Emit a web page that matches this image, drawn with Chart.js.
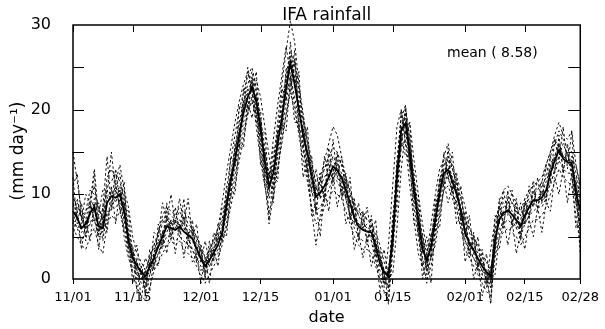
<!DOCTYPE html>
<html><head><meta charset="utf-8">
<script src="https://cdn.jsdelivr.net/npm/chart.js@4"></script>
<style>html,body{margin:0;padding:0;background:#fff;}#wrap{width:605px;height:329px;position:relative;}</style>
</head><body><div id="wrap"><canvas id="c" width="605" height="329"></canvas></div>
<script>
const titleText = 'IFA rainfall';
const meanLabel = 'mean ( 8.58)';
const xTitle = 'date';
const yTitle = '(mm day\u207B\u00B9)';
const tickDays = [0, 14, 30, 44, 61, 75, 92, 106, 119];
const tickLabels = ['11/01','11/15','12/01','12/15','01/01','01/15','02/01','02/15','02/28'];
const yTicks = [0, 10, 20, 30];
const yMinorTicks = [5, 10, 15, 20, 25];

const meanRain = [
8.0,7.2,6.0,6.5,7.8,8.5,6.2,6.0,9.0,9.8,
9.6,10.0,8.0,4.6,2.5,1.6,0.8,0.3,1.5,2.5,
3.8,5.0,6.2,6.0,5.8,6.2,5.6,5.2,4.8,3.6,
2.4,1.5,2.2,3.1,4.0,5.5,8.5,11.5,14.0,17.0,
19.6,21.5,22.7,21.0,17.6,14.0,10.9,12.5,16.0,19.0,
22.5,25.5,23.0,20.0,17.0,14.8,12.0,9.7,10.2,11.0,
12.0,13.3,12.8,12.0,10.5,9.0,7.2,6.2,5.8,5.6,
5.5,4.0,1.8,0.8,0.3,5.0,12.0,17.6,18.4,15.0,
10.5,7.0,3.5,2.2,3.8,7.0,10.0,12.5,12.9,11.5,
10.0,8.0,5.4,4.2,3.4,2.4,1.5,0.8,0.3,4.6,
7.0,7.8,8.1,7.6,7.0,6.2,7.5,8.5,9.3,9.3,
9.6,10.5,12.5,14.0,15.2,14.2,13.8,13.7,10.1,8.1];

const member1 = [
15.0,11.5,8.0,7.0,9.5,11.0,8.0,7.5,12.0,13.0,
11.5,13.5,10.5,6.0,3.5,2.0,0.5,-1.5,0.5,3.0,
5.5,7.5,8.5,8.0,7.5,8.5,8.0,6.5,6.0,5.0,
3.5,2.5,3.5,4.5,6.0,7.0,10.5,14.0,17.0,20.0,
22.0,24.0,25.0,22.5,18.0,13.5,10.0,13.5,18.5,23.0,
27.0,30.5,28.0,23.0,19.5,16.0,13.0,10.5,12.0,14.0,
16.0,18.0,17.0,14.5,12.0,10.0,8.5,7.5,8.0,7.0,
6.5,4.5,2.5,0.5,-1.0,6.5,14.0,19.0,20.5,16.5,
11.5,8.0,4.0,1.5,4.5,8.5,11.5,14.5,16.0,13.0,
11.0,9.5,7.0,6.0,5.0,3.5,2.0,0.5,-1.0,5.5,
9.0,10.5,11.0,10.0,9.0,8.0,9.5,10.5,11.0,11.5,
12.0,13.5,15.0,17.0,18.5,17.0,16.5,17.5,13.5,11.0];

const member2 = [
6.0,5.0,4.0,3.5,5.0,6.0,4.0,3.0,6.5,7.5,
7.0,8.0,6.0,3.0,0.5,-1.0,-2.0,-2.5,-1.0,1.0,
2.0,3.0,4.0,4.5,4.0,4.5,3.5,3.0,2.5,1.5,
0.5,-0.5,0.5,1.5,2.5,4.0,6.5,9.5,12.0,15.0,
17.5,19.5,21.0,19.0,15.0,11.0,8.0,9.5,13.0,16.0,
19.5,22.0,20.0,17.0,14.0,11.5,8.5,6.5,7.0,8.5,
9.5,10.5,10.0,9.5,8.0,6.5,5.0,4.0,3.5,3.5,
3.0,1.5,0.0,-1.5,-2.5,3.0,10.0,15.5,16.5,13.0,
8.5,5.0,1.5,0.0,1.5,5.0,8.0,10.5,11.0,9.5,
8.0,6.0,3.5,2.5,1.5,0.5,-0.5,-1.5,-2.0,2.5,
5.0,5.5,6.0,5.5,5.0,4.0,5.0,6.0,7.0,7.0,
7.5,8.5,10.0,11.5,13.0,12.0,11.5,11.0,7.5,4.0];

const member3 = [
7.0,6.0,6.5,8.0,9.0,7.0,5.5,8.5,10.5,10.0,
10.5,8.5,5.0,2.5,1.0,0.5,0.0,1.0,2.5,4.0,
5.5,7.0,7.0,6.5,7.0,6.5,6.0,5.0,3.5,2.0,
1.0,2.0,3.5,4.5,6.0,9.0,12.5,15.5,18.5,21.0,
23.0,24.5,22.0,18.0,14.0,11.0,12.0,16.5,20.5,24.0,
27.5,24.0,20.5,17.5,15.0,12.5,10.0,10.5,11.5,13.0,
14.5,14.0,13.0,11.5,9.5,7.5,6.5,6.0,6.5,6.0,
4.5,2.0,0.5,-0.5,4.0,11.0,18.0,20.0,16.0,11.0,
7.0,3.0,1.5,3.0,6.5,10.0,13.0,14.0,12.0,10.5,
8.5,6.0,4.5,3.5,2.5,1.0,0.0,-0.5,3.5,7.0,
8.5,9.0,8.0,7.0,6.0,7.0,8.5,9.5,10.0,10.5,
11.5,13.5,15.0,16.5,15.5,14.5,15.0,12.0,9.0,6.0];

const member4 = [
9.5,8.5,7.5,6.0,6.5,8.0,9.0,6.5,6.5,9.0,
10.5,10.0,10.5,8.5,5.0,3.0,2.0,1.0,0.5,2.0,
3.0,4.5,5.5,7.0,6.5,6.0,7.0,6.0,5.5,5.0,
4.0,2.5,1.5,2.5,3.5,4.5,6.0,8.5,11.0,14.0,
16.5,19.5,21.5,23.5,21.5,18.0,14.5,11.0,13.0,16.5,
19.5,23.0,26.0,22.5,19.0,16.5,14.0,11.0,9.5,10.5,
11.5,12.5,14.5,13.5,12.0,10.5,9.0,7.5,6.5,6.0,
6.0,5.5,4.0,2.0,0.5,0.5,6.0,13.0,17.5,18.5,
14.0,10.0,6.5,3.5,2.5,4.0,7.5,10.5,13.0,13.5,
12.0,10.5,8.5,6.0,5.0,4.0,3.0,2.0,1.0,0.5,
5.0,7.5,8.0,9.0,8.0,7.5,6.5,7.5,9.0,9.5,
10.0,10.5,11.0,13.0,14.5,16.0,14.5,14.0,13.5,10.5];

const member5 = [
10.0,8.0,7.5,8.0,10.5,10.0,8.5,7.0,11.0,11.5,
12.5,11.5,9.5,5.5,3.0,1.0,-0.5,-1.0,2.0,4.0,
5.0,6.5,8.0,7.5,7.0,8.0,7.0,7.5,6.0,4.5,
3.0,1.0,2.0,4.0,5.5,6.5,9.0,12.5,15.5,18.5,
21.0,23.0,24.5,22.0,19.0,15.5,12.0,14.0,17.5,21.0,
24.0,27.0,25.5,22.0,18.5,16.0,13.5,11.5,12.5,13.0,
14.5,15.5,15.0,13.5,11.5,10.5,8.5,8.0,7.5,7.0,
7.0,5.0,3.0,1.0,0.0,6.0,13.5,19.5,20.0,16.5,
12.0,8.5,5.0,3.0,5.0,8.0,11.0,13.5,14.5,13.0,
11.5,9.5,7.0,5.5,4.0,3.0,2.0,1.0,0.5,6.0,
8.5,9.5,10.0,9.0,8.5,7.5,9.0,10.0,11.5,11.0,
11.0,12.0,14.5,16.0,17.5,16.5,15.5,15.0,12.5,9.0];

const member6 = [
7.0,6.0,4.5,5.5,6.5,7.0,5.0,5.0,7.5,8.5,
8.5,9.0,7.0,3.5,1.5,0.5,0.0,0.0,1.0,1.5,
3.0,4.0,5.0,5.0,4.5,5.0,4.5,4.0,3.5,2.5,
1.5,0.5,1.5,2.5,3.0,5.0,7.5,10.5,13.0,16.0,
18.5,20.5,21.5,19.5,16.5,12.5,9.5,11.0,14.5,17.5,
21.0,24.0,21.5,18.5,15.5,13.0,10.5,8.0,8.5,9.5,
10.5,12.0,11.5,10.5,9.5,7.5,6.0,5.0,4.5,4.5,
4.5,3.0,1.0,0.0,-1.0,4.0,11.0,16.5,17.5,14.0,
9.5,6.0,2.5,1.0,2.5,6.0,9.0,11.5,12.0,10.0,
9.0,7.0,4.5,3.0,2.5,1.5,0.5,0.0,-1.0,3.5,
6.0,6.5,7.0,6.5,6.0,5.0,6.5,7.5,8.0,8.5,
8.5,9.5,11.5,12.5,14.0,13.0,12.5,12.5,9.0,6.5];

const member7 = [
8.5,9.5,7.0,6.0,8.0,9.5,7.0,5.5,9.5,10.5,
9.0,10.5,9.0,5.0,2.0,1.5,1.0,0.5,3.0,3.5,
4.5,5.5,7.0,6.5,6.5,7.0,6.5,5.5,4.5,3.5,
2.0,1.5,2.5,3.5,5.0,6.0,9.5,12.0,15.0,18.0,
20.0,22.0,23.5,20.5,16.0,11.5,6.5,10.0,15.0,19.5,
23.0,26.0,24.0,21.0,16.0,12.0,8.0,4.0,7.5,10.0,
12.5,13.0,12.0,11.0,10.0,8.5,7.5,6.5,6.0,5.5,
5.0,3.5,2.0,0.5,-1.5,5.5,12.5,18.0,19.5,15.5,
10.0,6.5,2.0,-0.5,3.0,7.0,10.5,13.0,13.5,12.0,
10.5,8.0,5.5,4.5,3.0,2.0,1.0,0.0,-2.5,4.0,
7.5,8.0,8.5,7.5,6.5,5.5,7.0,8.5,9.0,8.5,
9.0,10.0,12.0,14.5,15.5,14.5,14.0,14.5,10.5,3.0];

const member8 = [
9.0,7.5,5.5,6.0,7.5,9.0,5.5,6.5,10.0,9.5,
10.0,11.0,7.5,4.0,2.0,1.0,0.5,-0.5,2.0,3.0,
4.0,5.5,6.5,5.5,6.0,7.0,6.0,5.5,5.5,4.0,
2.5,2.0,3.0,3.5,4.5,6.0,9.0,12.0,14.5,17.5,
20.5,22.5,23.0,21.5,18.0,15.0,12.0,13.5,17.0,20.0,
23.5,26.5,23.5,20.5,17.5,15.0,12.5,10.0,11.0,12.0,
13.0,14.5,13.5,12.5,11.0,9.5,7.5,6.5,6.0,6.5,
6.0,4.5,2.5,1.0,0.5,5.0,12.0,18.0,19.0,15.5,
11.0,7.5,4.0,2.5,4.0,7.5,10.5,13.0,13.0,12.0,
10.5,8.5,6.0,4.5,3.5,2.5,1.5,1.0,0.0,5.0,
7.5,8.5,9.0,8.0,7.5,6.5,8.0,9.0,10.0,10.0,
10.0,11.5,13.0,14.5,16.0,14.5,14.0,14.0,11.0,8.5];

const member9 = [
12.0,6.5,9.0,4.5,8.0,12.5,5.0,8.5,14.5,8.5,
13.0,9.0,11.5,3.5,4.0,-1.5,1.5,-2.0,3.5,1.0,
6.5,4.0,9.0,5.0,8.5,5.5,9.5,4.5,7.0,2.5,
4.0,0.0,4.5,2.0,6.5,5.0,11.0,10.0,16.0,15.5,
22.5,20.0,24.0,19.5,20.0,12.5,13.0,9.0,17.5,18.0,
25.0,23.5,27.0,18.5,19.0,13.0,14.5,7.5,12.5,9.5,
15.5,11.5,15.0,10.0,12.5,7.0,9.5,4.5,8.0,4.0,
7.5,2.5,3.5,-1.0,1.5,3.5,13.5,16.0,20.5,13.5,
12.5,5.0,5.5,0.5,5.5,5.5,12.0,11.0,15.5,10.0,
12.5,6.5,8.0,2.5,5.5,1.0,3.5,-1.0,1.5,3.0,
9.5,6.0,10.5,6.0,9.5,4.5,9.5,7.0,11.5,8.0,
11.5,9.0,14.5,12.5,17.0,12.5,16.0,12.5,12.0,5.0];

const member10 = [
5.0,8.0,3.5,7.0,4.5,9.0,3.5,7.5,5.5,11.0,
6.5,10.5,5.5,5.5,-0.5,2.5,-2.5,1.0,-1.5,2.5,
1.5,5.5,3.0,7.0,3.0,6.5,2.5,5.5,2.0,3.0,
-0.5,2.5,-0.5,3.5,1.5,5.5,5.0,10.5,10.0,16.0,
15.5,21.0,19.0,21.5,13.5,15.0,7.0,12.0,11.5,18.5,
17.5,23.5,18.5,18.5,12.0,14.0,7.5,9.0,5.0,10.5,
8.0,12.5,8.5,11.0,6.5,8.0,3.5,5.5,2.5,5.0,
1.5,3.5,-1.5,1.0,-3.0,4.5,8.5,17.0,14.5,14.5,
6.5,6.5,0.0,2.5,-0.5,6.5,6.0,11.5,9.0,11.0,
6.5,7.5,2.0,4.0,0.0,2.0,-2.0,0.5,-3.0,4.0,
3.5,7.0,4.0,7.0,3.0,5.5,3.5,7.0,5.0,8.5,
5.5,9.0,8.0,12.0,10.0,13.0,9.0,12.5,6.0,7.5];

const member11 = [
11.0,12.5,7.0,10.0,9.0,13.0,7.5,10.5,10.0,15.0,
10.5,12.5,8.5,8.0,2.5,4.0,0.5,2.5,1.0,5.5,
5.0,9.0,7.0,10.0,6.5,9.5,6.5,9.5,5.0,6.5,
2.0,4.5,2.0,5.5,4.5,8.5,8.0,14.5,13.5,20.5,
20.0,25.0,22.0,24.5,17.0,17.5,10.5,15.5,15.5,22.5,
21.0,28.0,22.5,24.5,15.5,18.0,10.5,13.0,9.5,14.5,
12.0,16.5,12.0,14.5,9.5,12.0,6.5,9.0,6.0,8.5,
5.0,7.0,1.5,3.5,0.0,7.5,11.0,20.0,17.0,18.5,
9.5,10.0,3.0,5.0,2.5,9.5,9.0,15.0,12.0,15.0,
9.0,11.0,5.0,7.5,3.0,5.0,0.5,3.0,-0.5,7.5,
6.5,10.5,7.5,10.5,6.5,9.0,6.5,11.0,8.5,12.0,
9.0,13.5,11.5,16.5,14.0,18.0,13.0,17.5,9.0,12.0];

const member12 = [
6.5,9.0,7.5,5.0,9.0,7.0,7.5,4.5,8.0,8.0,
11.5,8.0,9.0,4.0,3.5,0.0,1.5,-1.0,2.0,2.0,
4.5,3.5,7.5,4.5,7.0,5.0,7.5,3.5,6.0,2.0,
3.5,0.5,3.5,2.5,5.0,4.5,9.5,9.5,15.0,15.5,
21.0,19.5,23.5,18.5,19.0,12.0,12.0,10.5,17.0,17.5,
24.0,22.0,25.5,17.5,18.0,12.5,13.0,8.0,12.0,9.0,
14.0,11.0,14.0,9.5,11.5,7.0,8.5,5.0,7.5,4.5,
6.5,3.0,2.5,-0.5,1.0,4.0,13.0,15.5,20.0,13.0,
11.5,5.5,5.0,1.0,5.0,6.0,11.5,11.5,14.5,10.5,
11.5,7.0,7.0,3.0,5.0,1.5,3.0,-0.5,1.0,3.5,
8.5,6.5,9.5,6.5,8.5,5.0,9.0,7.5,10.5,8.5,
10.5,9.5,13.5,13.0,16.0,13.0,15.0,13.0,11.0,5.5];

const members = [member1, member2, member3, member4, member5, member6,
                 member7, member8, member9, member10, member11, member12];
const dayIndex = meanRain.map((_, i) => i);
const toXY = arr => arr.map((v, i) => ({x: dayIndex[i], y: v}));

const FONT = "'DejaVu Sans', sans-serif";

const datasets = [{
  label: 'mean', data: toXY(meanRain), borderColor: '#000', borderWidth: 1.8,
  pointRadius: 0, tension: 0, fill: false, clip: false
}].concat(members.map((m, k) => ({
  label: 'member' + (k + 1), data: toXY(m), borderColor: '#111', borderWidth: 1,
  borderDash: [2.5, 2.5], pointRadius: 0, tension: 0, fill: false, clip: false
})));

const framePlugin = {
  id: 'frame',
  afterDraw(chart) {
    const ctx = chart.ctx, a = chart.chartArea;
    const xs = chart.scales.x, ys = chart.scales.y;
    ctx.save();
    ctx.strokeStyle = '#000';
    ctx.lineWidth = 1.5;
    ctx.strokeRect(a.left, a.top, a.right - a.left, a.bottom - a.top);
    ctx.lineWidth = 1;
    ctx.beginPath();
    yMinorTicks.forEach(v => {
      const y = Math.round(ys.getPixelForValue(v)) + 0.5;
      ctx.moveTo(a.left, y); ctx.lineTo(a.left + 11, y);
      ctx.moveTo(a.right, y); ctx.lineTo(a.right - 12, y);
    });
    tickDays.forEach(d => {
      const x = Math.round(xs.getPixelForValue(d)) + 0.5;
      ctx.moveTo(x, a.top); ctx.lineTo(x, a.top + 7);
    });
    ctx.stroke();
    ctx.fillStyle = '#000';
    ctx.textAlign = 'center';
    ctx.textBaseline = 'alphabetic';
    ctx.font = '17px ' + FONT;
    ctx.fillText(titleText, (a.left + a.right) / 2, 20);
    ctx.textAlign = 'left';
    ctx.font = '14px ' + FONT;
    ctx.fillText(meanLabel, 447, 57);
    ctx.textAlign = 'center';
    ctx.textBaseline = 'middle';
    ctx.font = '16px ' + FONT;
    ctx.fillText(xTitle, (a.left + a.right) / 2, 318);
    ctx.translate(19, 151);
    ctx.rotate(-Math.PI / 2);
    ctx.font = '17px ' + FONT;
    ctx.fillText(yTitle, 0, 0);
    ctx.restore();
  }
};

new Chart(document.getElementById('c'), {
  type: 'line',
  data: { datasets },
  options: {
    responsive: false, animation: false, devicePixelRatio: 1,
    layout: { padding: { left: 0, right: 23, top: 25, bottom: 0 } },
    plugins: { legend: { display: false }, tooltip: { enabled: false }, title: { display: false } },
    scales: {
      x: {
        type: 'linear', min: 0, max: 119, position: 'bottom',
        afterFit(s) { s.height = 50; },
        afterBuildTicks(s) { s.ticks = tickDays.map(v => ({ value: v })); },
        ticks: {
          autoSkip: false, maxRotation: 0, color: '#000', padding: 6,
          font: { family: FONT, size: 13 },
          callback: v => tickLabels[tickDays.indexOf(v)]
        },
        grid: { display: true, drawOnChartArea: false, tickLength: 5, color: '#000', lineWidth: 1 },
        border: { display: false }
      },
      y: {
        min: 0, max: 30,
        afterFit(s) { s.width = 73; },
        afterBuildTicks(s) { s.ticks = yTicks.map(v => ({ value: v })); },
        ticks: { color: '#000', padding: 14, font: { family: FONT, size: 16 } },
        grid: { display: false },
        border: { display: false }
      }
    }
  },
  plugins: [framePlugin]
});
</script></body></html>
